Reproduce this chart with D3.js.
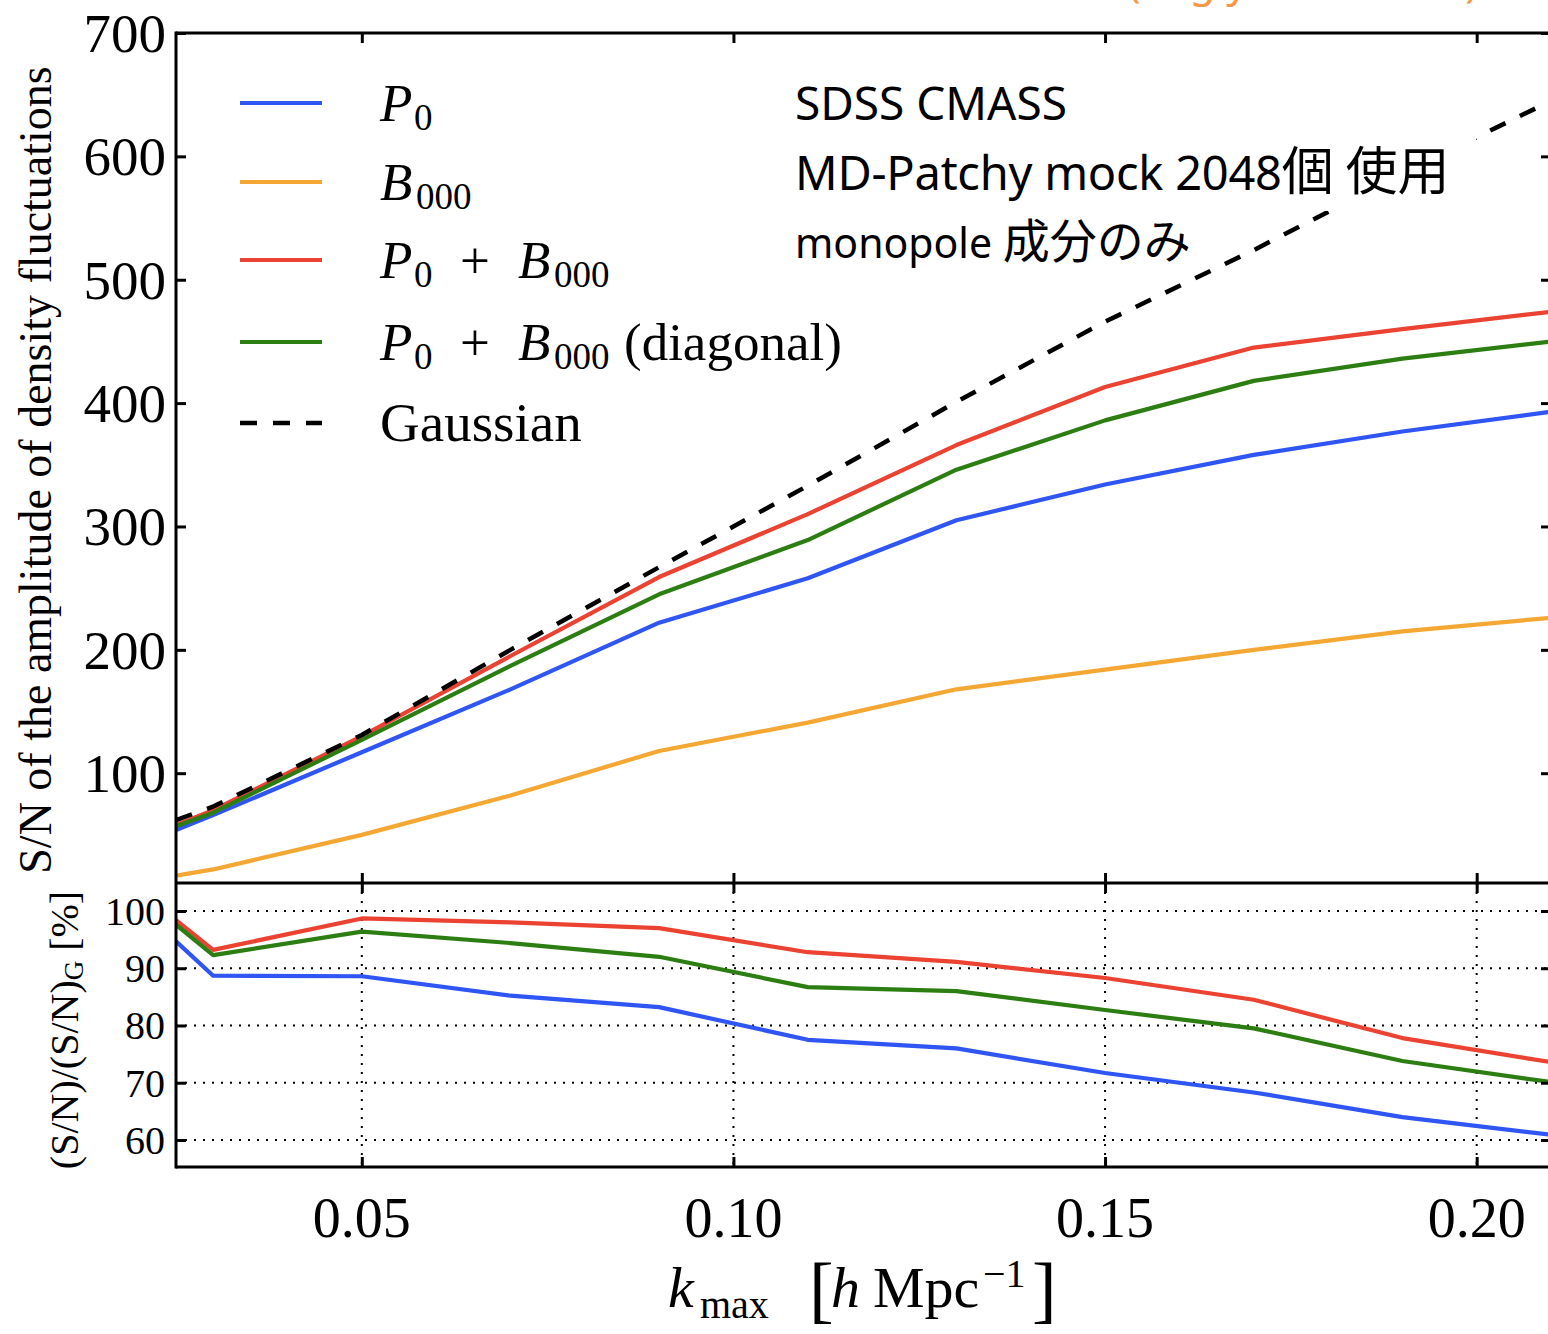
<!DOCTYPE html>
<html>
<head>
<meta charset="utf-8">
<script src="https://cdn.jsdelivr.net/npm/d3@7"></script>
<style>
  html, body { margin: 0; padding: 0; background: #fff; }
  svg { display: block; }
</style>
</head>
<body>
<svg id="chart" width="1548" height="1334"></svg>
<script>
// k_max grid of the cumulative S/N measurements
const kmax = [0.025, 0.03, 0.05, 0.07, 0.09, 0.11, 0.13, 0.15, 0.17, 0.19, 0.21];

// S/N of the amplitude of density fluctuations
const snP0      = [54, 66, 117, 168, 222, 258, 305, 334, 358, 377, 393];
const snB000    = [17, 22, 50, 82, 118, 141, 168, 184, 200, 215, 226];
const snP0B000  = [58, 70, 130, 195, 259, 310, 366, 413, 445, 460, 474];
const snDiag    = [57, 68, 127, 187, 245, 289, 346, 386, 418, 436, 450];
const snGauss   = [62, 73, 131, 200, 267, 333, 401, 466, 524, 586, 645];

// ratio to the Gaussian S/N, in percent
const ratioP0     = [94.7, 88.7, 88.6, 85.2, 83.2, 77.5, 76.0, 71.7, 68.3, 64.0, 60.9];
const ratioP0B000 = [98.4, 93.2, 98.7, 98.0, 97.0, 92.8, 91.1, 88.3, 84.5, 77.8, 73.6];
const ratioDiag   = [97.6, 92.3, 96.4, 94.4, 92.0, 86.7, 86.0, 82.7, 79.5, 73.8, 70.1];

// axis ticks
const snTicks = [100, 200, 300, 400, 500, 600, 700];
const ratioTicks = [60, 70, 80, 90, 100];
const kTicks = [0.05, 0.10, 0.15, 0.20];
const kTickLabels = ["0.05", "0.10", "0.15", "0.20"];

const COLORS = { p0: "#2f55f4", b000: "#f5a733", sum: "#eb4231", diag: "#2d7e12", gauss: "#000" };
const SERIF = "'Liberation Serif', 'DejaVu Serif', serif";
const SANS = "'Noto Sans', 'Noto Sans CJK JP', sans-serif";
const CJK = "'Noto Sans CJK JP', 'Noto Sans', sans-serif";

const svg = d3.select("#chart");

const left = 176, right = 1551, topY = 33, midY = 883, botY = 1167;

const x = d3.scaleLinear().domain([0.025, 0.21]).range([left, right]);
const yTop = d3.scaleLinear().domain([11, 700]).range([midY, topY]);
const yBot = d3.scaleLinear().domain([55.28, 104.89]).range([botY, midY]);

// clip regions for each panel
const defs = svg.append("defs");
defs.append("clipPath").attr("id", "clipTop").append("rect")
  .attr("x", left).attr("y", topY).attr("width", right - left).attr("height", midY - topY);
defs.append("clipPath").attr("id", "clipBot").append("rect")
  .attr("x", left).attr("y", midY).attr("width", right - left).attr("height", botY - midY);

// ---- reference citation (runs off the top edge)
svg.append("text")
  .attr("x", 1128).attr("y", -3)
  .attr("font-family", SANS).attr("font-size", 42)
  .attr("fill", "#f79646")
  .text("(Sugiyama+ 2019)");

// ---- lower panel grid
const gridBot = svg.append("g").attr("clip-path", "url(#clipBot)")
  .attr("stroke", "#000").attr("stroke-width", 2).attr("stroke-dasharray", "2,7");
gridBot.selectAll("line.h").data(ratioTicks).join("line")
  .attr("x1", left).attr("x2", right)
  .attr("y1", d => yBot(d)).attr("y2", d => yBot(d));
gridBot.selectAll("line.v").data(kTicks).join("line")
  .attr("x1", d => x(d)).attr("x2", d => x(d))
  .attr("y1", midY).attr("y2", botY);

// ---- curves
function drawLine(g, ys, yScale, color, dashed) {
  const line = d3.line().x((d, i) => x(kmax[i])).y(d => yScale(d));
  g.append("path")
    .datum(ys)
    .attr("d", line)
    .attr("fill", "none")
    .attr("stroke", color)
    .attr("stroke-width", dashed ? 4.5 : 4.2)
    .attr("stroke-linejoin", "round")
    .attr("stroke-dasharray", dashed ? "17,16" : null);
}

const topG = svg.append("g").attr("clip-path", "url(#clipTop)");
drawLine(topG, snP0, yTop, COLORS.p0);
drawLine(topG, snB000, yTop, COLORS.b000);
drawLine(topG, snP0B000, yTop, COLORS.sum);
drawLine(topG, snDiag, yTop, COLORS.diag);
drawLine(topG, snGauss, yTop, COLORS.gauss, true);

const botG = svg.append("g").attr("clip-path", "url(#clipBot)");
drawLine(botG, ratioP0, yBot, COLORS.p0);
drawLine(botG, ratioP0B000, yBot, COLORS.sum);
drawLine(botG, ratioDiag, yBot, COLORS.diag);

// ---- axes (inward ticks on all sides)
const TL = 10;
function tickAxis(axis, transform) {
  const g = svg.append("g").attr("transform", transform).call(axis);
  g.select(".domain").remove();
  g.selectAll(".tick line").attr("stroke", "#000").attr("stroke-width", 3);
  g.selectAll(".tick text").remove();
  return g;
}
// top panel
tickAxis(d3.axisRight(yTop).tickValues(snTicks).tickSize(TL), `translate(${left},0)`);
tickAxis(d3.axisLeft(yTop).tickValues(snTicks).tickSize(TL), `translate(${right},0)`);
tickAxis(d3.axisBottom(x).tickValues(kTicks).tickSize(TL), `translate(0,${topY})`);
tickAxis(d3.axisTop(x).tickValues(kTicks).tickSize(TL), `translate(0,${midY})`);
// bottom panel
tickAxis(d3.axisRight(yBot).tickValues(ratioTicks).tickSize(TL), `translate(${left},0)`);
tickAxis(d3.axisLeft(yBot).tickValues(ratioTicks).tickSize(TL), `translate(${right},0)`);
tickAxis(d3.axisBottom(x).tickValues(kTicks).tickSize(TL), `translate(0,${midY})`);
tickAxis(d3.axisTop(x).tickValues(kTicks).tickSize(TL), `translate(0,${botY})`);

// tick labels
svg.append("g").selectAll("text").data(snTicks).join("text")
  .attr("x", 166).attr("y", d => yTop(d) + 19)
  .attr("text-anchor", "end")
  .attr("font-family", SERIF).attr("font-size", 55)
  .text(d => d);
svg.append("g").selectAll("text").data(ratioTicks).join("text")
  .attr("x", 165).attr("y", d => yBot(d) + 14)
  .attr("text-anchor", "end")
  .attr("font-family", SERIF).attr("font-size", 40)
  .text(d => d);
svg.append("g").selectAll("text").data(kTicks).join("text")
  .attr("x", d => x(d)).attr("y", 1237)
  .attr("text-anchor", "middle")
  .attr("font-family", SERIF).attr("font-size", 56)
  .text((d, i) => kTickLabels[i]);

// spines
const spine = svg.append("g").attr("stroke", "#000").attr("stroke-width", 3).attr("fill", "none");
spine.append("line").attr("x1", left).attr("x2", left).attr("y1", topY - 1.5).attr("y2", botY + 1.5);
spine.append("line").attr("x1", right).attr("x2", right).attr("y1", topY).attr("y2", botY);
[topY, midY, botY].forEach(yy =>
  spine.append("line").attr("x1", left).attr("x2", right + 2).attr("y1", yy).attr("y2", yy));

// ---- axis titles
function piece(parent, px, py, str, size, italic, family) {
  return parent.append("text")
    .attr("x", px).attr("y", py)
    .attr("font-family", family || SERIF)
    .attr("font-size", size)
    .attr("font-style", italic ? "italic" : "normal")
    .text(str);
}
const xTitle = svg.append("g");
piece(xTitle, 668, 1307, "k", 58, true);
piece(xTitle, 700, 1318, "max", 40, false);
piece(xTitle, 809, 1314, "[", 74, false);
piece(xTitle, 831, 1307, "h", 58, true);
piece(xTitle, 873, 1307, "Mpc", 58, false);
piece(xTitle, 983, 1287, "\u22121", 40, false);
piece(xTitle, 1032, 1314, "]", 74, false);

svg.append("text")
  .attr("transform", "translate(51,470) rotate(-90)")
  .attr("text-anchor", "middle")
  .attr("font-family", SERIF).attr("font-size", 46)
  .text("S/N of the amplitude of density fluctuations");

const yBotTitle = svg.append("text")
  .attr("transform", "translate(78,1030) rotate(-90)")
  .attr("text-anchor", "middle")
  .attr("font-family", SERIF).attr("font-size", 40);
yBotTitle.append("tspan").text("(S/N)/(S/N)");
yBotTitle.append("tspan").attr("font-size", 27).attr("dy", 5).text("G");
yBotTitle.append("tspan").attr("dy", -5).text(" [%]");

// ---- legend
const legendRows = [
  { color: COLORS.p0, dashed: false, y: 103 },
  { color: COLORS.b000, dashed: false, y: 182 },
  { color: COLORS.sum, dashed: false, y: 260 },
  { color: COLORS.diag, dashed: false, y: 342 },
  { color: COLORS.gauss, dashed: true, y: 423 }
];
const legend = svg.append("g");
legend.selectAll("line").data(legendRows).join("line")
  .attr("x1", 240).attr("x2", 322)
  .attr("y1", d => d.y).attr("y2", d => d.y)
  .attr("stroke", d => d.color).attr("stroke-width", d => d.dashed ? 4.5 : 4.2)
  .attr("stroke-dasharray", d => d.dashed ? "17,16" : null);

const LF = 53, SF = 37, SUB = 9;
function pSub(px, py) {
  piece(legend, px, py, "P", LF, true);
  piece(legend, px + 34, py + SUB, "0", SF, false);
}
function bSub(px, py) {
  piece(legend, px, py, "B", LF, true);
  piece(legend, px + 36, py + SUB, "000", SF, false);
}
const bl = legendRows.map(r => r.y + 18);
pSub(380, bl[0]);
bSub(380, bl[1]);
pSub(380, bl[2]); piece(legend, 460, bl[2], "+", LF, false); bSub(518, bl[2]);
pSub(380, bl[3]); piece(legend, 460, bl[3], "+", LF, false); bSub(518, bl[3]);
piece(legend, 624, bl[3], "(diagonal)", LF, false);
piece(legend, 380, bl[4], "Gaussian", 55, false);

// ---- sample description
const note = svg.append("g");
note.append("rect").attr("x", 785).attr("y", 68).attr("width", 691).attr("height", 143).attr("fill", "#fff");
note.append("rect").attr("x", 785).attr("y", 211).attr("width", 420).attr("height", 60).attr("fill", "#fff");

piece(note, 795, 120, "SDSS CMASS", 46, false, SANS);
const l2 = note.append("text").attr("x", 795).attr("y", 190).attr("font-family", SANS).attr("font-size", 47);
l2.append("tspan").attr("textLength", 487).attr("lengthAdjust", "spacing").text("MD-Patchy mock 2048");
l2.append("tspan").attr("font-family", CJK).attr("font-size", 52).text("個 使用");
const l3 = note.append("text").attr("x", 795).attr("y", 258).attr("font-family", SANS).attr("font-size", 41);
l3.append("tspan").text("monopole ");
l3.append("tspan").attr("font-family", CJK).attr("font-size", 47).text("成分のみ");
</script>
</body>
</html>
